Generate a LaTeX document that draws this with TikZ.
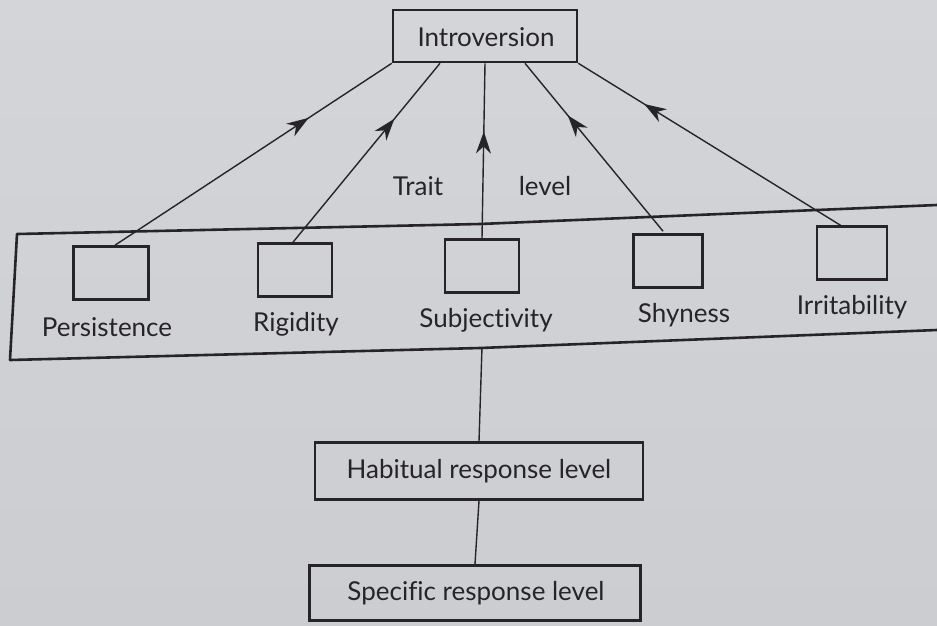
\documentclass[tikz,border=0pt]{standalone}
\usepackage{fontspec}
\setmainfont{Lato}[Ligatures=NoCommon]
\usetikzlibrary{arrows.meta,decorations.markings,calc}
\definecolor{paper}{RGB}{204,205,209}
\definecolor{paperlight}{RGB}{212,213,216}
\definecolor{ink}{RGB}{38,36,40}
\tikzset{
  frame/.style={draw=ink,line width=2.6pt,inner sep=0pt},
  smallbox/.style={frame,minimum width=74pt,minimum height=53pt},
  label/.style={text=ink,inner sep=0pt,font=\fontsize{26}{30}\selectfont},
  conn/.style={draw=ink,line width=1.4pt},
  midarrow/.style={conn,postaction={decorate},decoration={markings,
     mark=at position #1 with {\arrow{Stealth[length=22pt,width=15pt,inset=7pt]}}}}
}
\begin{document}
\begin{tikzpicture}[x=1pt,y=-1pt]
\useasboundingbox (0,0) rectangle (937,625);
\shade[top color=paperlight,bottom color=paper] (0,0) rectangle (937,625);

% top node
\node[frame,minimum width=184pt,minimum height=52pt] (intro) at (485,36) {};
\node[label] (introtxt) at (486,37) {Introversion};

% trait level band
\draw[ink,line width=2.6pt,line join=round] (937,205) -- (480,224) -- (17,234) -- (10,360) -- (480,348) -- (937,330);

% small boxes
\node[smallbox,minimum width=75pt] (bp) at (111,273) {};
\node[smallbox] (br) at (295,270) {};
\node[smallbox] (bs) at (482,266) {};
\node[smallbox,minimum width=69pt] (bsh) at (668,261) {};
\node[smallbox,minimum width=70pt] (bi) at (852,253) {};

% labels
\node[label] (lp) at (107,327) {Persistence};
\node[label] (lr) at (296,324) {Rigidity};
\node[label] (ls) at (486,320) {Subjectivity};
\node[label] (lsh) at (684,315) {Shyness};
\node[label] (li) at (852,307) {Irritability};
\node[label] (trait) at (418,186) {Trait};
\node[label] (level) at (545,186) {level};

% connectors with arrows pointing up
\coordinate (ip) at ($(bp.north)+(4,0)$);
\coordinate (ir) at ($(br.north)+(-2,0)$);
\coordinate (ish) at ($(bsh.north)+(-5,-2)$);
\coordinate (ii) at ($(bi.north)+(-10,1)$);
\draw[midarrow=0.70] (ip) -- (intro.south west);
\draw[midarrow=0.69] (ir) -- ($(intro.south)+(-45,0)$);
\draw[midarrow=0.61] (bs.north) -- (intro.south);
\draw[midarrow=0.69] (ish) -- ($(intro.south)+(40,0)$);
\draw[midarrow=0.75] (ii) -- (intro.south east);

% lower levels
\node[frame,minimum width=328pt,minimum height=57pt] (hab) at (479,471) {};
\node[label] (habtxt) at (479,471) {Habitual response level};
\node[frame,minimum width=331pt,minimum height=55pt] (spec) at (475,593) {};
\node[label] (spectxt) at (476,593) {Specific response level};

\coordinate (bandbottom) at (482,347);
\draw[conn] (bandbottom) -- (hab.north);
\draw[conn] (hab.south) -- (spec.north);
\end{tikzpicture}
\end{document}
